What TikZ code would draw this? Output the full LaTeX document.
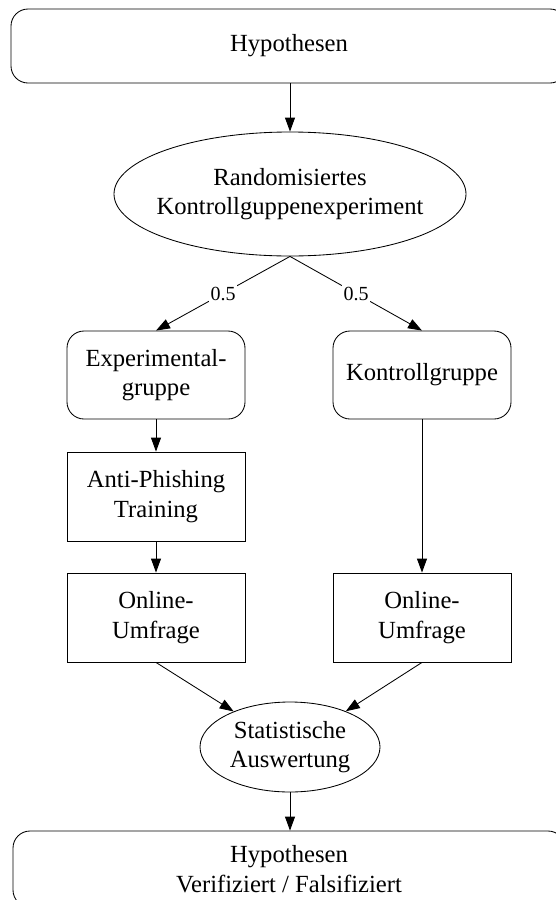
\documentclass[tikz,border=0pt]{standalone}
\usepackage{fontspec}
\setmainfont{Liberation Serif}
\usetikzlibrary{shapes.geometric,arrows.meta}
\begin{document}
\begin{tikzpicture}[x=1pt,y=-1pt,
  base/.style={draw, line width=0.85pt, align=center, inner sep=0pt,
    font=\fontsize{24.65}{29.5}\selectfont},
  roundbox/.style={base, rectangle, rounded corners=17pt},
  plainbox/.style={base, rectangle},
  oval/.style={base, ellipse},
  flow/.style={line width=0.85pt, -{Triangle[length=14pt,width=10pt]}},
  weight/.style={midway, fill=white, inner sep=1.5pt,
    font=\fontsize{20}{24}\selectfont}
]
\useasboundingbox (0,0) rectangle (555,900);

% start and end of the study
\node[roundbox, minimum width=556pt, minimum height=74pt] (hyp) at (289,46) {Hypothesen};
\node[roundbox, minimum width=552pt, minimum height=76pt] (res) at (289,869)
  {Hypothesen\\Verifiziert / Falsifiziert};

% randomisation
\node[oval, inner xsep=-15pt, minimum width=352pt, minimum height=124pt] (rand) at (290,194)
  {Randomisiertes\\Kontrollguppenexperiment};

% the two groups
\node[roundbox, minimum width=178pt, minimum height=88pt] (exp) at (156,375) {Experimental-\\gruppe};
\node[roundbox, minimum width=178pt, minimum height=88pt] (kon) at (422,375) {Kontrollgruppe};

\node[plainbox, minimum width=178pt, minimum height=89pt] (train) at (156,496.5) {Anti-Phishing\\Training};
\node[plainbox, minimum width=178pt, minimum height=89pt] (survA) at (156,617.5) {Online-\\Umfrage};
\node[plainbox, minimum width=178pt, minimum height=89pt] (survB) at (422,617.5) {Online-\\Umfrage};

% evaluation
\node[oval, minimum width=180pt, minimum height=90pt] (stat) at (290,747) {Statistische\\Auswertung};

% connectors
\draw[flow] (hyp.south -| rand.north) -- (rand.north);
\draw[flow] (rand.south) -- (exp.north) node[weight] {0.5};
\draw[flow] (rand.south) -- (kon.north) node[weight] {0.5};
\draw[flow] (exp.south) -- (train.north);
\draw[flow] (train.south) -- (survA.north);
\draw[flow] (kon.south) -- (survB.north);
\draw[flow] (survA.south) -- (stat);
\draw[flow] (survB.south) -- (stat);
\draw[flow] (stat.south) -- (stat.south |- res.north);
\end{tikzpicture}
\end{document}
